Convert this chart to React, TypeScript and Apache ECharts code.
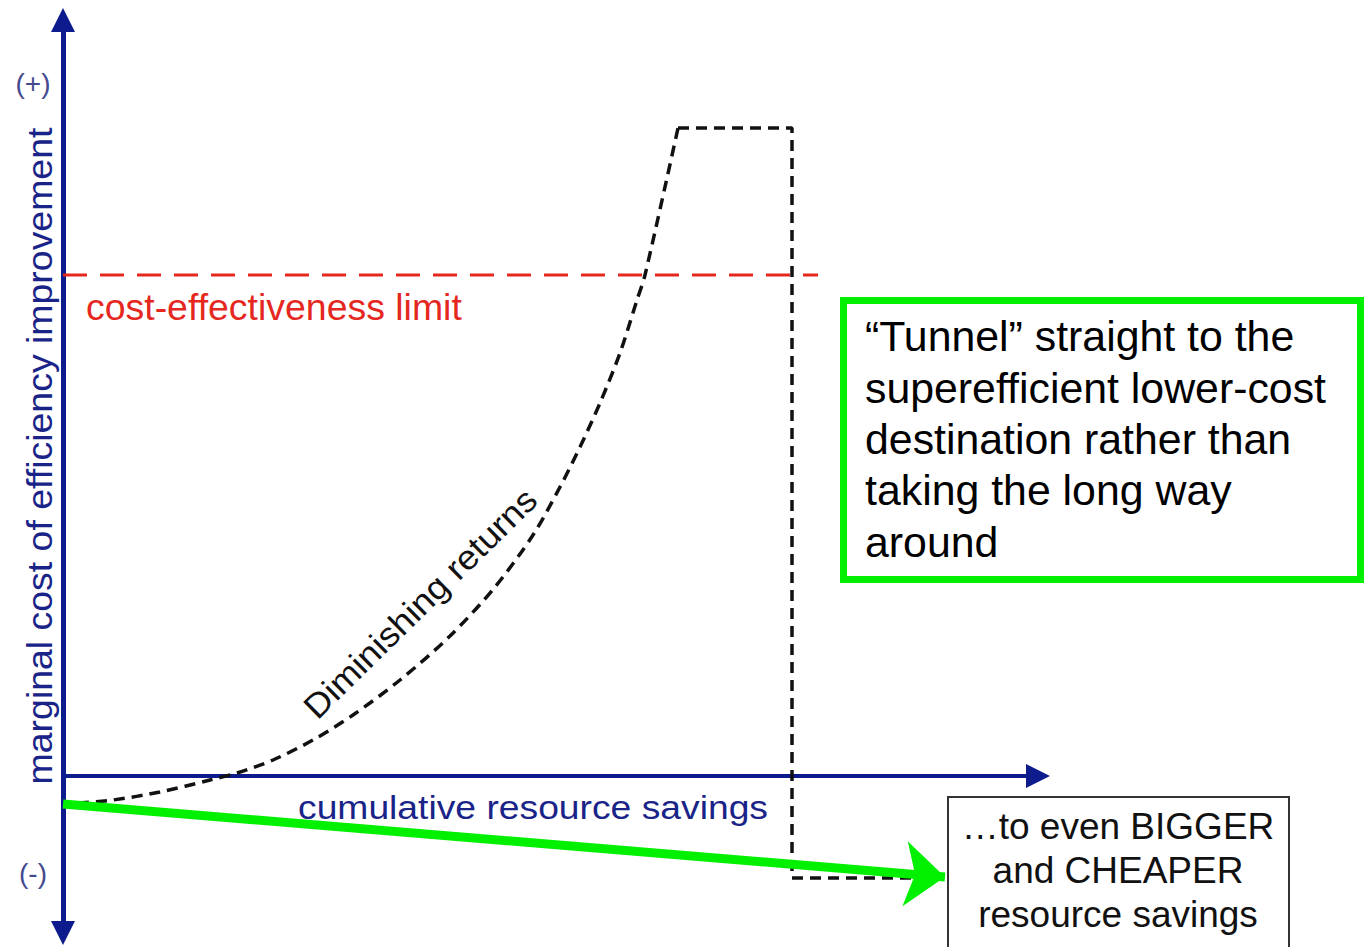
import { useEffect, useRef } from "react";
import * as echarts from "echarts";

// Diagram values (x = cumulative resource savings, y = marginal cost), origin at the axes crossing
const curveX = [15, 50, 97, 147, 174, 210, 250, 290, 337, 387, 432, 470, 497, 517, 537, 557, 574, 582, 615];
const curveY = [-27, -24, -16, -4, 3, 16, 36, 61, 96, 140, 189, 241, 289, 329, 373, 423, 476, 501, 648];
const tunnelX = [615, 729, 729, 852];
const tunnelY = [648, 648, -102, -102];
const limitX = [0, 755];
const limitY = [501, 501];
const shortcutX = [0, 882];
const shortcutY = [-28, -101];

const xAxisName = "cumulative resource savings";
const yAxisName = "marginal cost of efficiency improvement";
const plusLabel = "(+)";
const minusLabel = "(-)";
const limitLabel = "cost-effectiveness limit";
const curveLabel = "Diminishing returns";
const tunnelLines = [
  "\u201CTunnel\u201D straight to the",
  "superefficient lower-cost",
  "destination rather than",
  "taking the long way",
  "around",
];
const destLines = ["\u2026to even BIGGER", "and CHEAPER", "resource savings"];

const FONT = "'Liberation Sans', Arial, Helvetica, sans-serif";
const NAVY = "#0d1b8c";
const GREEN = "#00f000";
const RED = "#e5281f";

function txt(text: string, x: number, y: number, size: number, fill: string, align: string, extra: any = {}) {
  return {
    type: "text",
    x,
    y,
    z: 20,
    silent: true,
    ...extra,
    style: {
      text,
      fill,
      fontSize: size,
      fontFamily: FONT,
      align,
      verticalAlign: "middle",
      textAlign: align,
      textVerticalAlign: "middle",
    },
  };
}

export default function App() {
  const ref = useRef<HTMLDivElement>(null);
  useEffect(() => {
    if (!ref.current) return;
    const chart = echarts.init(ref.current, undefined, { renderer: "svg" });
    const zip = (xs: number[], ys: number[]) => xs.map((x, i) => [x, ys[i]]);
    const graphics: any[] = [
      {
        type: "rect",
        z: 15,
        silent: true,
        shape: { x: 843.5, y: 300.5, width: 517, height: 279 },
        style: { fill: "#ffffff", stroke: GREEN, lineWidth: 7 },
      },
      {
        type: "rect",
        z: 15,
        silent: true,
        shape: { x: 948, y: 797, width: 341, height: 170 },
        style: { fill: "#ffffff", stroke: "#333333", lineWidth: 2 },
      },
      txt(plusLabel, 33, 83, 28, "#454a8f", "center"),
      txt(minusLabel, 33, 873, 28, "#454a8f", "center"),
      txt(yAxisName, 40, 456, 35, "#1a2488", "center", { rotation: Math.PI / 2, scaleX: 1.07 }),
      txt(xAxisName, 533, 808, 34, "#1a2488", "center", { scaleX: 1.096 }),
      txt(limitLabel, 86, 307.5, 36, RED, "left", { scaleX: 1.04 }),
      txt(curveLabel, 420, 603, 34, "#111111", "center", { rotation: (44.5 * Math.PI) / 180, scaleX: 1.07 }),
      ...tunnelLines.map((t, i) => txt(t, 865, 337 + i * 51.3, 42, "#000000", "left", { scaleX: 1.02 })),
      ...destLines.map((t, i) => txt(t, 1118, 826 + i * 44, 37, "#111111", "center")),
    ];
    chart.setOption({
      animation: false,
      backgroundColor: "#ffffff",
      grid: { left: 63, right: 328, top: 20, bottom: 14, containLabel: false, outerBoundsMode: "none" },
      xAxis: {
        type: "value",
        min: 0,
        max: 975,
        axisLine: {
          show: true,
          onZero: true,
          symbol: ["none", "triangle"],
          symbolSize: [24, 24],
          lineStyle: { color: NAVY, width: 4 },
        },
        axisTick: { show: false },
        axisLabel: { show: false },
        splitLine: { show: false },
      },
      yAxis: {
        type: "value",
        min: -157,
        max: 756,
        axisLine: {
          show: true,
          onZero: true,
          symbol: ["triangle", "triangle"],
          symbolSize: [24, 24],
          lineStyle: { color: NAVY, width: 5 },
        },
        axisTick: { show: false },
        axisLabel: { show: false },
        splitLine: { show: false },
      },
      series: [
        {
          type: "line",
          name: "limit",
          data: zip(limitX, limitY),
          symbol: "none",
          silent: true,
          lineStyle: { color: RED, width: 3, type: [24, 13] },
          z: 3,
        },
        {
          type: "line",
          name: "diminishing",
          data: zip(curveX, curveY),
          symbol: "none",
          smooth: 0.3,
          silent: true,
          lineStyle: { color: "#111111", width: 3.5, type: [11, 7] },
          z: 4,
        },
        {
          type: "line",
          name: "tunnel",
          data: zip(tunnelX, tunnelY),
          symbol: "none",
          silent: true,
          lineStyle: { color: "#111111", width: 3.5, type: [11, 7] },
          z: 4,
        },
        {
          type: "line",
          name: "shortcut",
          data: zip(shortcutX, shortcutY),
          symbol: "none",
          silent: true,
          lineStyle: { opacity: 0, width: 0 },
          z: 6,
          markLine: {
            silent: true,
            symbol: ["none", "arrow"],
            symbolSize: [49, 40],
            label: { show: false },
            lineStyle: { color: GREEN, width: 9, type: "solid", opacity: 1 },
            emphasis: { disabled: true },
            data: [
              [
                { coord: [shortcutX[0], shortcutY[0]] },
                { coord: [shortcutX[1], shortcutY[1]] },
              ],
            ],
          },
        },
      ],
      graphic: graphics,
    });
    return () => chart.dispose();
  }, []);
  return (
    <div
      ref={ref}
      style={{ position: "absolute", left: 0, top: 0, width: 1366, height: 947 }}
    />
  );
}
